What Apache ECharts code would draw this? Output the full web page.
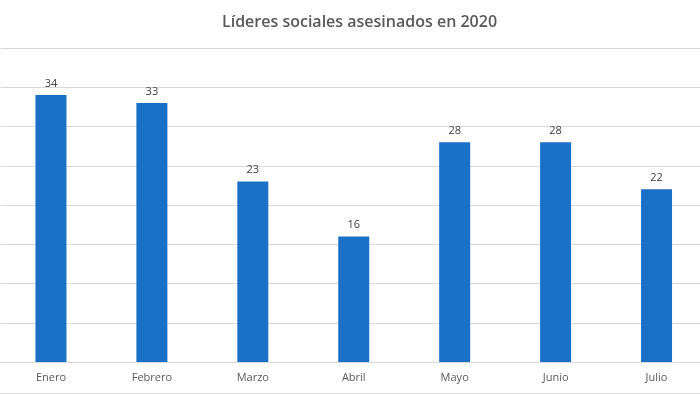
<!DOCTYPE html>
<html><head><meta charset="utf-8">
<script src="https://cdn.jsdelivr.net/npm/echarts@6/dist/echarts.min.js"></script>
<style>html,body{margin:0;padding:0;background:#fff;overflow:hidden}#c{width:700px;height:394px}</style>
</head><body><div id="c"></div>
<script>
const categories = ["Enero","Febrero","Marzo","Abril","Mayo","Junio","Julio"];
const values = [34,33,23,16,28,28,22];
const chart = echarts.init(document.getElementById('c'));
chart.setOption({
  backgroundColor:'#fff',
  animation:false,
  title:{text:'Líderes sociales asesinados en 2020',left:217,top:9,
    textStyle:{fontFamily:'Open Sans',fontSize:16,fontWeight:600,color:'#595959'}},
  grid:{left:0.5,right:-7,top:48,bottom:32,outerBoundsMode:'none'},
  xAxis:{type:'category',data:categories,
    axisLine:{lineStyle:{color:'#d9d9d9'}},axisTick:{show:false},
    axisLabel:{color:'#595959',fontFamily:'Open Sans',fontSize:11,margin:10}},
  yAxis:{type:'value',min:0,max:40,interval:5,
    axisLabel:{show:false},axisLine:{show:false},axisTick:{show:false},
    splitLine:{lineStyle:{color:'#d9d9d9'}}},
  series:[{type:'bar',data:values,barWidth:31,
    itemStyle:{color:'#1a70c7'},
    label:{show:true,position:'top',distance:6,color:'#404040',fontFamily:'Open Sans',fontSize:11}}],
  graphic:[{type:'line',shape:{x1:0,y1:393.5,x2:700,y2:393.5},style:{stroke:'#d9d9d9',lineWidth:1}}]
});
</script></body></html>
